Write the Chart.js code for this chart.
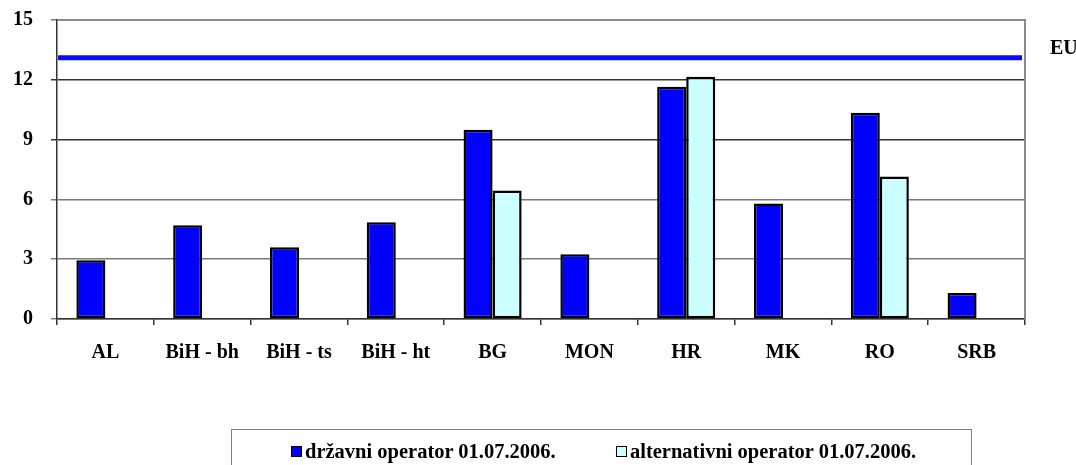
<!DOCTYPE html>
<html>
<head>
<meta charset="utf-8">
<script src="https://cdn.jsdelivr.net/npm/chart.js@4.4.0/dist/chart.umd.min.js"></script>
<style>
  html, body { margin: 0; padding: 0; background: #fff; }
  #wrap { position: relative; width: 1076px; height: 465px; overflow: hidden; }
  canvas { position: absolute; left: 0; top: 0; }
  #legend {
    position: absolute; left: 231px; top: 429px; width: 741px; height: 60px;
    border: 1.5px solid #808080; box-sizing: border-box;
    font-family: 'Liberation Serif', serif; font-weight: bold; font-size: 20.5px; color: #000;
  }
  .item { position: absolute; top: 10px; white-space: nowrap; line-height: 22px; }
  .sw { display: inline-block; width: 9px; height: 9px; border: 1.5px solid #000; margin-right: 3px; vertical-align: 1px; }
</style>
</head>
<body>
<div id="wrap">
  <canvas id="c" width="1076" height="465"></canvas>
  <div id="legend"></div>
</div>
<script>
const categories = ['AL', 'BiH - bh', 'BiH - ts', 'BiH - ht', 'BG', 'MON', 'HR', 'MK', 'RO', 'SRB'];
const drzavni = [2.95, 4.7, 3.6, 4.85, 9.5, 3.25, 11.65, 5.8, 10.35, 1.3];
const alternativni = [null, null, null, null, 6.45, null, 12.15, null, 7.15, null];
const euValue = 13.1;
const euLabel = 'EU';
const seriesNames = ['državni operator 01.07.2006.', 'alternativni operator 01.07.2006.'];
const yTicks = [0, 3, 6, 9, 12, 15];

const colors = ['#0000FF', '#CCFFFF'];
const FONT = "'Liberation Serif', serif";

const euPlugin = {
  id: 'euLine',
  afterDatasetsDraw(chart) {
    const { ctx, chartArea } = chart;
    const y = chart.scales.y.getPixelForValue(euValue);
    ctx.save();
    ctx.strokeStyle = '#0a0aff';
    ctx.lineWidth = 5;
    ctx.beginPath();
    ctx.moveTo(chartArea.left + 1, y);
    ctx.lineTo(chartArea.right - 3, y);
    ctx.stroke();
    ctx.fillStyle = '#000';
    ctx.font = 'bold 20px ' + FONT;
    ctx.textAlign = 'left';
    ctx.textBaseline = 'middle';
    ctx.fillText(euLabel, chartArea.right + 25, y - 9);
    ctx.restore();
  },
  afterDraw(chart) {
    const { ctx, chartArea } = chart;
    ctx.save();
    ctx.strokeStyle = '#8a8a8a';
    ctx.lineWidth = 2;
    ctx.beginPath();
    ctx.moveTo(chartArea.left, chartArea.top);
    ctx.lineTo(chartArea.right, chartArea.top);
    ctx.lineTo(chartArea.right, chartArea.bottom);
    ctx.stroke();
    ctx.restore();
  }
};

new Chart(document.getElementById('c'), {
  type: 'bar',
  data: {
    labels: categories,
    datasets: [
      { label: seriesNames[0], data: drzavni, backgroundColor: colors[0], borderColor: '#000', borderWidth: 2.5, borderSkipped: false },
      { label: seriesNames[1], data: alternativni, backgroundColor: colors[1], borderColor: '#000', borderWidth: 2.5, borderSkipped: false }
    ]
  },
  options: {
    responsive: false,
    animation: false,
    layout: { padding: { left: 0, right: 51, top: 20, bottom: 86 } },
    plugins: { legend: { display: false }, tooltip: { enabled: false } },
    datasets: { bar: { categoryPercentage: 0.6, barPercentage: 1.0 } },
    scales: {
      x: {
        grid: { display: true, drawOnChartArea: false, drawTicks: true, tickLength: 6, offset: true, color: '#333', lineWidth: 1.5 },
        border: { color: '#333', width: 1.5 },
        ticks: { color: '#000', font: { family: FONT, size: 20, weight: 'bold' }, padding: 16, maxRotation: 0, autoSkip: false },
        afterFit(scale) { scale.height = 60; scale.paddingLeft = 0; scale.paddingRight = 0; }
      },
      y: {
        min: 0, max: 15,
        afterBuildTicks(scale) { scale.ticks = yTicks.map(v => ({ value: v })); },
        grid: {
          color: (c) => (c.tick && (c.tick.value === 12 || c.tick.value === 9)) ? '#333' : '#7a7a7a',
          lineWidth: 1.5, tickLength: 6, drawTicks: true
        },
        border: { color: '#333', width: 1.5 },
        ticks: { color: '#000', font: { family: FONT, size: 20, weight: 'bold' }, padding: 18 },
        afterFit(scale) { scale.width = 57; scale.paddingTop = 0; scale.paddingBottom = 0; }
      }
    }
  },
  plugins: [euPlugin]
});

const legend = document.getElementById('legend');
const legendX = [59, 384];
seriesNames.forEach((name, i) => {
  const d = document.createElement('div');
  d.className = 'item';
  d.style.left = legendX[i] + 'px';
  const sw = document.createElement('span');
  sw.className = 'sw';
  sw.style.background = colors[i];
  d.appendChild(sw);
  d.appendChild(document.createTextNode(name));
  legend.appendChild(d);
});
</script>
</body>
</html>
